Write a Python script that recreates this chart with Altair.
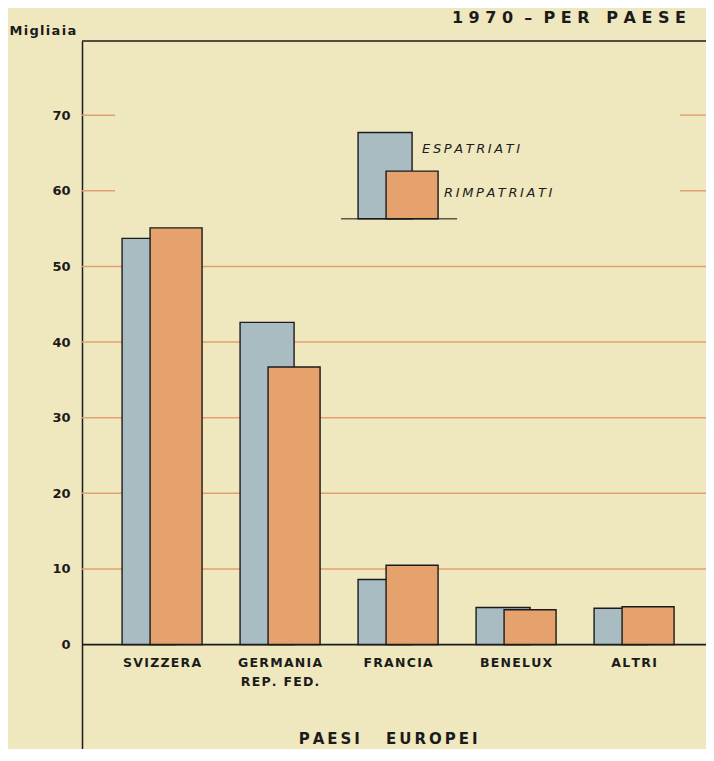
import altair as alt
import pandas as pd

# ---- data ----
categories = ["SVIZZERA", "GERMANIA\nREP. FED.", "FRANCIA", "BENELUX", "ALTRI"]
espatriati = [53.7, 42.6, 8.6, 4.9, 4.8]
rimpatriati = [55.1, 36.7, 10.5, 4.6, 5.0]
y_ticks = [0, 10, 20, 30, 40, 50, 60, 70]
full_grid = [10, 20, 30, 40, 50]
short_grid = [60, 70]

BG = "#efe8bf"
BLUE = "#a9bcc2"
ORANGE = "#e6a26c"
GRID = "#e2a06e"
INK = "#1b1b1b"
FONT = "DejaVu Sans"
HS = "\u200a"   # hair space
TS = "\u2009"   # thin space
NB = "\u00a0"   # no-break space


def spaced(s, sep):
    return sep.join(list(s))


W, H = 624, 708
YMIN, YMAX = -13.8, 79.8

df = pd.DataFrame({"cat": categories, "esp": espatriati, "rim": rimpatriati})
df["label"] = [("\n".join(spaced(part, HS) for part in c.split("\n"))) for c in categories]

xs = alt.Scale(domain=categories, paddingInner=0, paddingOuter=0.144, align=0.62)
ys = alt.Scale(domain=[YMIN, YMAX], nice=False, zero=False)

X = alt.X("cat:N", scale=xs, axis=None, sort=categories)

grid_full = alt.Chart(pd.DataFrame({"v": full_grid})).mark_rule(
    color=GRID, strokeWidth=1.5
).encode(y=alt.Y("v:Q", scale=ys))

grid_short = pd.DataFrame({"v": short_grid})
grid_left = alt.Chart(grid_short).mark_rule(color=GRID, strokeWidth=1.5).encode(
    y=alt.Y("v:Q", scale=ys), x=alt.value(0), x2=alt.value(33)
)
grid_right = alt.Chart(grid_short).mark_rule(color=GRID, strokeWidth=1.5).encode(
    y=alt.Y("v:Q", scale=ys), x=alt.value(598), x2=alt.value(W)
)

blue = alt.Chart(df).mark_bar(size=54, xOffset=-13, color=BLUE, stroke=INK, strokeWidth=1.4).encode(
    x=X,
    y=alt.Y("esp:Q", scale=ys,
            axis=alt.Axis(values=y_ticks, grid=False, ticks=False, labelPadding=12,
                          domain=True, domainColor=INK, domainWidth=1.5,
                          labelFont=FONT, labelFontSize=13, labelFontWeight="bold",
                          labelColor=INK, title=spaced("Migliaia", HS), titleAngle=0,
                          titleAlign="left", titleBaseline="bottom",
                          titleX=-73, titleY=-4, titleFont=FONT, titleFontSize=13,
                          titleFontWeight="bold", titleColor=INK)),
    y2=alt.datum(0),
)
orange = alt.Chart(df).mark_bar(size=52, xOffset=14, color=ORANGE, stroke=INK, strokeWidth=1.4).encode(
    x=X, y=alt.Y("rim:Q", scale=ys), y2=alt.datum(0)
)

zero = alt.Chart(pd.DataFrame({"v": [0]})).mark_rule(color=INK, strokeWidth=1.6).encode(
    y=alt.Y("v:Q", scale=ys)
)
top = alt.Chart(pd.DataFrame({"v": [YMAX]})).mark_rule(color=INK, strokeWidth=1.6).encode(
    y=alt.Y("v:Q", scale=ys)
)

cat_labels = alt.Chart(df).mark_text(
    font=FONT, fontSize=12.5, fontWeight="bold", color=INK, baseline="top", align="center",
    lineBreak="\n", lineHeight=19
).encode(
    x=X, y=alt.datum(-1.6, scale=ys), text="label:N",
)

# legend drawn above FRANCIA
leg_cat = ["FRANCIA"]
leg_esp_top = [67.7]
leg_rim_top = [62.6]
leg_base = [56.3]
leg = pd.DataFrame({"cat": leg_cat, "e": leg_esp_top, "r": leg_rim_top, "b": leg_base})
leg_blue = alt.Chart(leg).mark_bar(size=54, xOffset=-13, color=BLUE, stroke=INK, strokeWidth=1.4).encode(
    x=X, y=alt.Y("e:Q", scale=ys), y2="b:Q")
leg_orange = alt.Chart(leg).mark_bar(size=52, xOffset=14, color=ORANGE, stroke=INK, strokeWidth=1.4).encode(
    x=X, y=alt.Y("r:Q", scale=ys), y2="b:Q")
leg_base_line = alt.Chart(leg).mark_tick(size=116, thickness=1.5, color=INK, xOffset=1).encode(
    x=X, y=alt.Y("b:Q", scale=ys))

leg_names = ["ESPATRIATI", "RIMPATRIATI"]
leg_y = [65.5, 59.7]
leg_t1 = alt.Chart(pd.DataFrame({"cat": ["FRANCIA"], "t": [spaced(leg_names[0], TS)], "y": [leg_y[0]]})).mark_text(
    font=FONT, fontSize=13, fontStyle="italic", color=INK, align="left", baseline="middle", dx=24
).encode(x=X, y=alt.Y("y:Q", scale=ys), text="t:N")
leg_t2 = alt.Chart(pd.DataFrame({"cat": ["FRANCIA"], "t": [spaced(leg_names[1], TS)], "y": [leg_y[1]]})).mark_text(
    font=FONT, fontSize=13, fontStyle="italic", color=INK, align="left", baseline="middle", dx=46
).encode(x=X, y=alt.Y("y:Q", scale=ys), text="t:N")

x_title = spaced("PAESI", TS) + NB * 5 + spaced("EUROPEI", TS)
xtitle = alt.Chart(pd.DataFrame({"cat": ["FRANCIA"], "t": [x_title], "y": [-12.5]})).mark_text(
    font=FONT, fontSize=15, fontWeight="bold", color=INK, align="center", baseline="middle", dx=-10
).encode(x=X, y=alt.Y("y:Q", scale=ys), text="t:N")

main_title = (spaced("1970", NB) + NB * 2 + "\u2013" + NB * 2 + spaced("PER", NB)
              + NB * 3 + spaced("PAESE", NB))
title_mark = alt.Chart(pd.DataFrame({"t": [main_title], "y": [82.9]})).mark_text(
    font=FONT, fontSize=16, fontWeight="bold", color=INK, align="right", baseline="middle"
).encode(x=alt.value(604), y=alt.Y("y:Q", scale=ys), text="t:N")

chart = alt.layer(
    grid_full, grid_left, grid_right, blue, orange, zero, top,
    leg_blue, leg_orange, leg_base_line, leg_t1, leg_t2, cat_labels, xtitle, title_mark
).properties(
    width=W, height=H,
    background=BG,
    autosize=alt.AutoSizeParams(type="none"),
    padding={"left": 74, "top": 33, "right": 0, "bottom": 0},
).configure_view(stroke=None, clip=False)

chart.save("out.html", embed_options={"renderer": "svg", "actions": False})
